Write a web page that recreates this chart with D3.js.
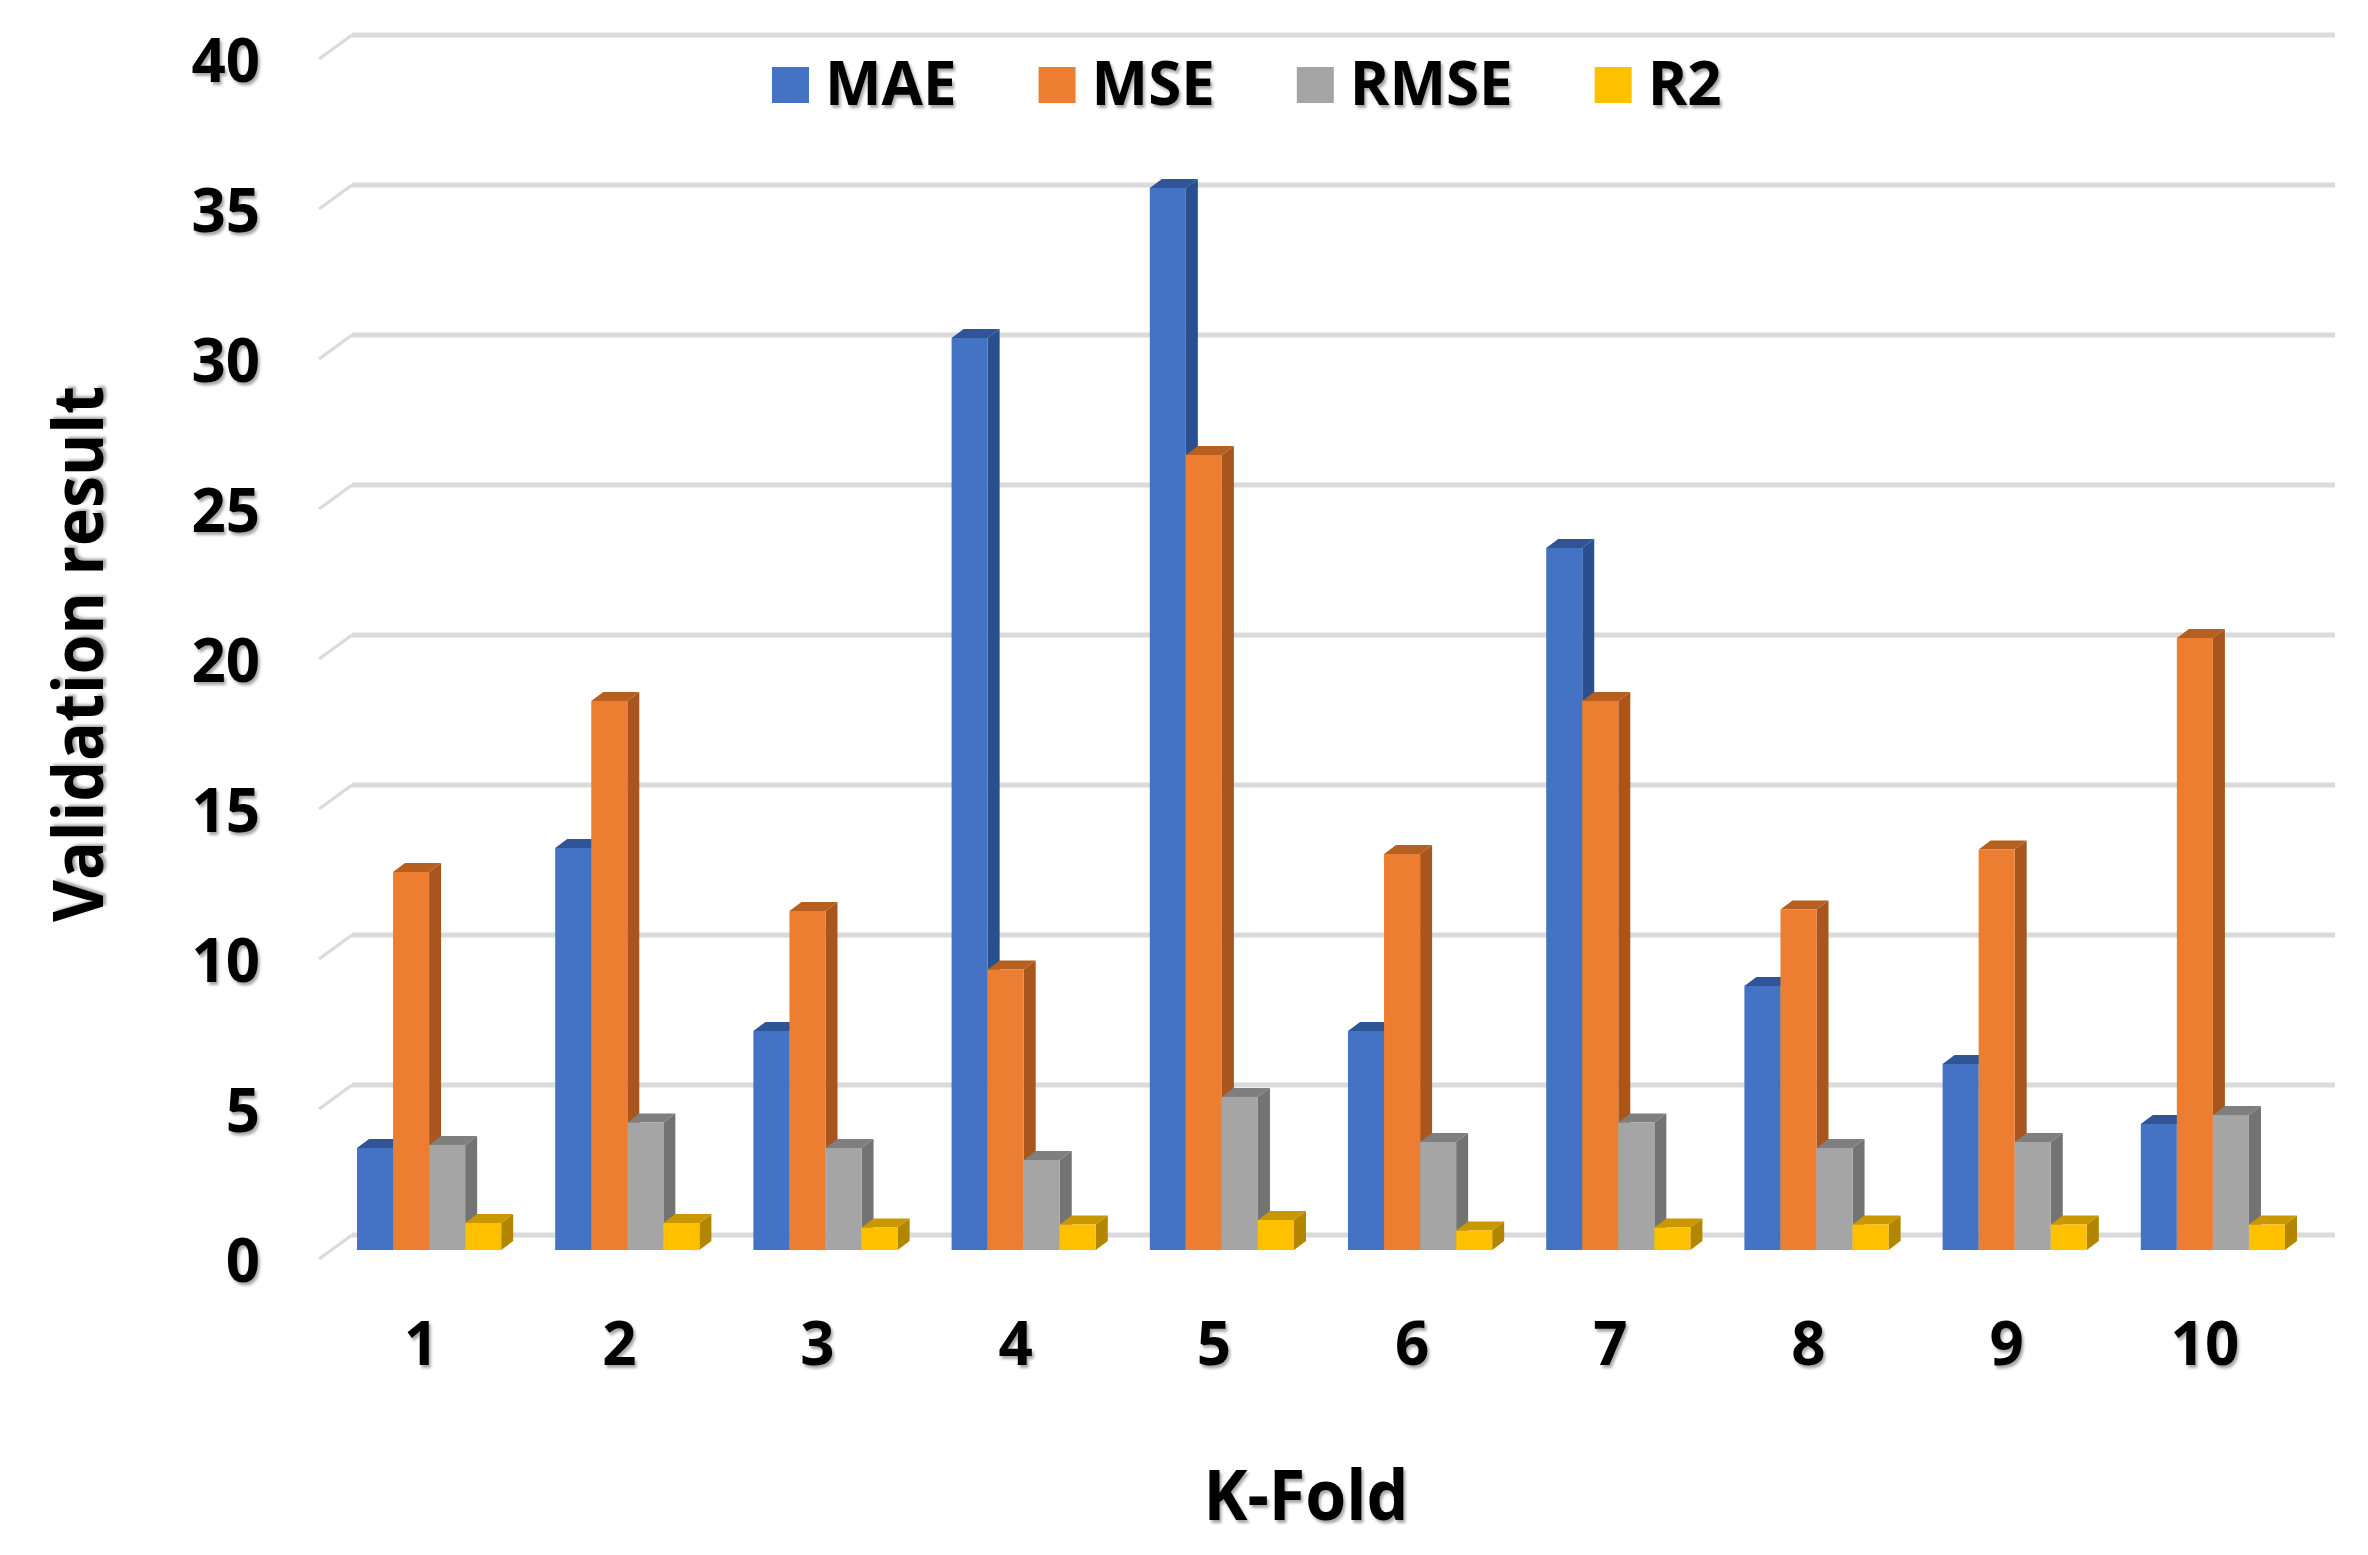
<!DOCTYPE html>
<html>
<head>
<meta charset="utf-8">
<script src="https://cdn.jsdelivr.net/npm/d3@7"></script>
<style>
    html, body { margin: 0; padding: 0; background: #fff; }
    svg { display: block; }
    text {
        font-family: "Open Sans", sans-serif;
        font-weight: 700;
        fill: #000;
        text-shadow: 2px 3px 3px rgba(0, 0, 0, 0.35);
    }
</style>
</head>
<body>
<div id="chart"></div>
<script>
// Values
var folds = ["1", "2", "3", "4", "5", "6", "7", "8", "9", "10"];
var seriesNames = ["MAE", "MSE", "RMSE", "R2"];
var mae = [3.4, 13.4, 7.3, 30.4, 35.4, 7.3, 23.4, 8.8, 6.2, 4.2];
var mse = [12.6, 18.3, 11.3, 9.35, 26.5, 13.2, 18.3, 11.35, 13.35, 20.4];
var rmse = [3.5, 4.25, 3.4, 3.0, 5.1, 3.6, 4.25, 3.4, 3.6, 4.5];
var r2 = [0.9, 0.9, 0.75, 0.85, 1.0, 0.65, 0.75, 0.85, 0.85, 0.85];
var yTicks = [0, 5, 10, 15, 20, 25, 30, 35, 40];

var seriesValues = [mae, mse, rmse, r2];

var frontColors = ["#4472c4", "#ed7d31", "#a5a5a5", "#ffc000"];
var sideColors = ["#2a4f8f", "#a9561e", "#737373", "#b38600"];
var topColors = ["#2f5597", "#b5601f", "#7f7f7f", "#c99700"];

var svgWidth = 2368;
var svgHeight = 1555;

// depth of the fake 3D bars and of the back wall
var barDepthX = 12;
var barDepthY = 9;
var wallDepthX = 33;
var wallDepthY = 15;
var floorDrop = 9;

var svg = d3
.select("#chart")
.append("svg")
.attr("width", svgWidth)
.attr("height", svgHeight);

// y scale is the front plane of the bars
var yScale = d3
.scaleLinear()
.domain([0, 40])
.range([1250, 50]);

// ten groups, 198px apart, bars touching inside a group
var xScale = d3
.scaleBand()
.domain(folds)
.range([330, 2312])
.paddingInner(0.2725)
.paddingOuter(0.13625);

var barScale = d3
.scaleBand()
.domain(seriesNames)
.range([0, xScale.bandwidth()]);

var wallLeft = 352;
var wallRight = 2335;

// Gridlines on the back wall, with the little slanted piece on the floor side
var gridGroup = svg.append("g");

gridGroup
    .selectAll("line")
    .data(yTicks)
    .enter()
    .append("line")
    .attr("x1", wallLeft)
    .attr("x2", wallRight)
    .attr("y1", d => yScale(d) - wallDepthY)
    .attr("y2", d => yScale(d) - wallDepthY)
    .attr("stroke", "#dadada")
    .attr("stroke-width", 5);

gridGroup
    .selectAll("path")
    .data(yTicks)
    .enter()
    .append("path")
    .attr("d", d => `M${wallLeft},${yScale(d) - wallDepthY}L${wallLeft - wallDepthX},${yScale(d) + floorDrop}`)
    .attr("fill", "none")
    .attr("stroke", "#dadada")
    .attr("stroke-width", 3);

// Bars, drawn left to right so each one hides the side of the one before
var barsGroup = svg.append("g");

folds.forEach((fold, i) => {
    var foldGroup = barsGroup.append("g");

    seriesNames.forEach((name, s) => {
        var x = xScale(fold) + barScale(name);
        var y = yScale(seriesValues[s][i]);
        var w = barScale.bandwidth();
        var base = yScale(0);

        foldGroup
            .append("path")
            .attr("d", `M${x + w},${y}L${x + w + barDepthX},${y - barDepthY}L${x + w + barDepthX},${base - barDepthY}L${x + w},${base}Z`)
            .attr("fill", sideColors[s]);

        foldGroup
            .append("path")
            .attr("d", `M${x},${y}L${x + barDepthX},${y - barDepthY}L${x + w + barDepthX},${y - barDepthY}L${x + w},${y}Z`)
            .attr("fill", topColors[s]);

        foldGroup
            .append("rect")
            .attr("x", x)
            .attr("y", y)
            .attr("width", w)
            .attr("height", base - y)
            .attr("fill", frontColors[s]);
    });
});

// Axes, only the labels are visible
var bottomAxis = d3.axisBottom(xScale).tickSize(0).tickPadding(0);
var leftAxis = d3.axisLeft(yScale).tickValues(yTicks).tickSize(0).tickPadding(0);

var xAxis = svg
.append("g")
.attr("transform", "translate(-8, 1322)")
.call(bottomAxis);

var yAxis = svg
.append("g")
.attr("transform", `translate(260, ${floorDrop + 1})`)
.call(leftAxis);

xAxis.select(".domain").remove();
yAxis.select(".domain").remove();
xAxis.selectAll("text").attr("font-size", 60).attr("dy", "0.71em");
yAxis.selectAll("text").attr("font-size", 60).attr("dy", "0.36em");
xAxis.attr("font-family", null);
yAxis.attr("font-family", null);

// Legend, laid out from the width of its own labels
var legendX = 772;
var legendGroup = svg.append("g");

seriesNames.forEach((name, s) => {
    legendGroup
        .append("rect")
        .attr("x", legendX)
        .attr("y", 67)
        .attr("width", 37)
        .attr("height", 36)
        .attr("fill", frontColors[s]);

    var label = legendGroup
    .append("text")
    .attr("x", legendX + 53)
    .attr("y", 105)
    .attr("font-size", 60)
    .text(name);

    legendX += 53 + label.node().getComputedTextLength() + 82;
});

// Axis titles
svg.append("text")
    .attr("x", 1306)
    .attr("y", 1520)
    .attr("text-anchor", "middle")
    .attr("font-size", 69)
    .attr("textLength", 205)
    .attr("lengthAdjust", "spacingAndGlyphs")
    .text("K-Fold");

svg.append("text")
    .attr("transform", "translate(103, 654) rotate(-90)")
    .attr("text-anchor", "middle")
    .attr("font-size", 69)
    .attr("textLength", 536)
    .attr("lengthAdjust", "spacingAndGlyphs")
    .text("Validation result");
</script>
</body>
</html>
